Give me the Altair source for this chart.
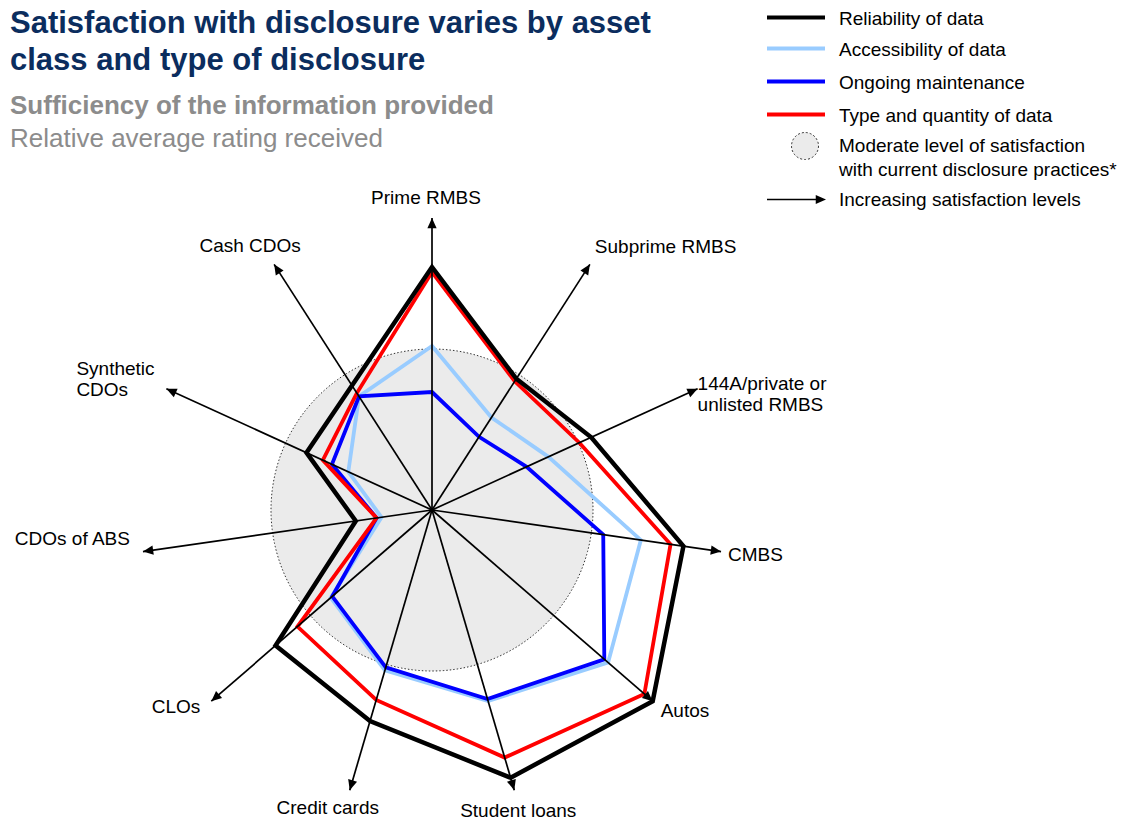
import altair as alt
import pandas as pd

# ---------------- data ----------------
categories = ["Prime RMBS", "Subprime RMBS", "144A/private or unlisted RMBS", "CMBS", "Autos",
              "Student loans", "Credit cards", "CLOs", "CDOs of ABS", "Synthetic CDOs", "Cash CDOs"]
axis_labels = ["Prime RMBS", "Subprime RMBS", "144A/private or\nunlisted RMBS", "CMBS", "Autos",
               "Student loans", "Credit cards", "CLOs", "CDOs of ABS", "Synthetic\nCDOs", "Cash CDOs"]

reliability = [2.43, 1.56, 1.75, 2.54, 2.92, 2.79, 2.20, 2.07, 0.77, 1.38, 1.48]
accessibility = [1.64, 1.10, 1.28, 2.11, 2.33, 1.99, 1.67, 1.34, 0.51, 0.92, 1.35]
maintenance = [1.18, 0.87, 1.04, 1.73, 2.28, 1.97, 1.64, 1.32, 0.56, 1.10, 1.35]
type_quantity = [2.38, 1.53, 1.62, 2.41, 2.81, 2.58, 1.98, 1.78, 0.56, 1.20, 1.39]

moderate_level = 1.61   # radius of the "moderate satisfaction" circle
axis_length = 2.92      # length of each "increasing satisfaction" arrow

series_names = ["Reliability of data", "Accessibility of data", "Ongoing maintenance", "Type and quantity of data"]
series_values = [reliability, accessibility, maintenance, type_quantity]
series_colors = ["#000000", "#99ccff", "#0000ff", "#ff0000"]

legend_extra = ["Moderate level of satisfaction", "with current disclosure practices*",
                "Increasing satisfaction levels"]
title_lines = ["Satisfaction with disclosure varies by asset", "class and type of disclosure"]
subtitle_bold = "Sufficiency of the information provided"
subtitle_regular = "Relative average rating received"

# ---------------- layout ----------------
W, H = 1132, 823
CX, CY = 432, 510
PX = 100.0
N = len(categories)
FONT = "Liberation Sans"

xs = alt.Scale(domain=[-CX / PX, (W - CX) / PX], nice=False, zero=False)
ys = alt.Scale(domain=[-(H - CY) / PX, CY / PX], nice=False, zero=False)


def X(f):
    return alt.X(f, type="quantitative", scale=xs, axis=None)


def Y(f):
    return alt.Y(f, type="quantitative", scale=ys, axis=None)


ANG = f"datum.k * 2 * PI / {N}"

rows = []
for name, vals in zip(series_names, series_values):
    for k, (cat, v) in enumerate(zip(categories, vals)):
        rows.append({"series": name, "category": cat, "k": k, "value": v})
radar = pd.DataFrame(rows)

# circle fill (area between lower and upper half)
circle_fill = alt.Chart(alt.sequence(0, 201, as_="i")).transform_calculate(
    t="datum.i * PI / 200",
    x=f"-{moderate_level} * cos(datum.t)",
    y=f"{moderate_level} * sin(datum.t)",
    y2=f"-{moderate_level} * sin(datum.t)",
).mark_area(color="#ebebeb", orient="vertical", opacity=1).encode(
    x=X("x"), y=Y("y"), y2="y2:Q"
)

circle_line = alt.Chart(alt.sequence(0, 361, as_="i")).transform_calculate(
    t="datum.i * PI / 180",
    x=f"{moderate_level} * sin(datum.t)",
    y=f"{moderate_level} * cos(datum.t)",
).mark_line(color="#333333", strokeWidth=1, strokeDash=[1.5, 2]).encode(
    x=X("x"), y=Y("y"), order="i:Q"
)


def series_layer(name, color, width):
    return alt.Chart(radar).transform_filter(alt.datum.series == name).transform_calculate(
        a=ANG,
        x="datum.value * sin(datum.a)",
        y="datum.value * cos(datum.a)",
    ).mark_line(interpolate="linear-closed", color=color, strokeWidth=width,
                strokeJoin="miter", strokeMiterLimit=10).encode(
        x=X("x"), y=Y("y"), order="k:Q"
    )


series_layers = [
    series_layer(series_names[1], series_colors[1], 3.8),
    series_layer(series_names[2], series_colors[2], 3.8),
    series_layer(series_names[3], series_colors[3], 3.8),
    series_layer(series_names[0], series_colors[0], 4.5),
]

axes_df = pd.DataFrame({"category": categories, "label": axis_labels, "k": list(range(N))})

label_layout = {  # pixel offset of label (first line) from the arrow tip, alignment
    "Prime RMBS": (-6, -20, "center"),
    "Subprime RMBS": (5, -17, "left"),
    "144A/private or unlisted RMBS": (0, -5, "left"),
    "CMBS": (7, 3, "left"),
    "Autos": (8, 10, "left"),
    "Student loans": (4, 21, "center"),
    "Credit cards": (-22, 18, "center"),
    "CLOs": (-11, 6, "right"),
    "CDOs of ABS": (-13, -13, "right"),
    "Synthetic CDOs": (-90, -20, "left"),
    "Cash CDOs": (-24, -18, "center"),
}
axes_df["dx"] = [label_layout[c][0] for c in categories]
axes_df["dy"] = [label_layout[c][1] for c in categories]
axes_df["align"] = [label_layout[c][2] for c in categories]

axes_base = alt.Chart(axes_df).transform_calculate(
    a=ANG,
    deg=f"datum.k * 360 / {N}",
    zero="0",
    tx=f"{axis_length} * sin(datum.a)",
    ty=f"{axis_length} * cos(datum.a)",
    lx=f"datum.tx + datum.dx / {PX}",
    ly=f"datum.ty - datum.dy / {PX}",
)

axis_rules = axes_base.mark_rule(color="black", strokeWidth=1.7).encode(
    x=X("zero"), y=Y("zero"), x2="tx:Q", y2="ty:Q"
)

ARROW = "M0,0L-0.45,1L0.45,1Z"
axis_heads = axes_base.mark_point(shape=ARROW, size=420, filled=True, color="black", opacity=1).encode(
    x=X("tx"), y=Y("ty"), angle=alt.Angle("deg:Q", scale=None)
)

label_layers = []
for al in ["left", "center", "right"]:
    label_layers.append(
        axes_base.transform_filter(alt.datum.align == al).mark_text(
            align=al, baseline="middle", font=FONT, fontSize=19, color="black",
            lineBreak="\n", lineHeight=21
        ).encode(x=X("lx"), y=Y("ly"), text="label:N")
    )

# ---------------- titles ----------------
def text_at(txt, x, y, size, color, weight="normal"):
    return alt.Chart(pd.DataFrame({"t": [txt]})).mark_text(
        align="left", baseline="alphabetic", font=FONT, fontSize=size, fontWeight=weight, color=color
    ).encode(x=alt.value(x), y=alt.value(y), text="t:N")


titles = [
    text_at(title_lines[0], 10, 33, 31, "#0b2d5e", "bold"),
    text_at(title_lines[1], 10, 70, 31, "#0b2d5e", "bold"),
    text_at(subtitle_bold, 10, 114, 26, "#8c8c8c", "bold"),
    text_at(subtitle_regular, 10, 147, 26, "#8c8c8c"),
]

# ---------------- legend ----------------
leg_df = pd.DataFrame({"item": series_names, "py": [17.5, 48.5, 81.5, 114.5]})
leg_color = alt.Color("item:N", scale=alt.Scale(domain=series_names, range=series_colors), legend=None)
leg_lines = alt.Chart(leg_df).mark_rule(strokeWidth=4).encode(
    x=alt.value(767), x2=alt.value(825), y=alt.Y("py:Q", scale=None), color=leg_color
)
leg_text_df = pd.DataFrame({
    "t": series_names + legend_extra,
    "py": [18.5, 50, 83, 115.5, 146, 170, 199.5],
})
leg_text = alt.Chart(leg_text_df).mark_text(
    align="left", baseline="middle", font=FONT, fontSize=19, color="black"
).encode(x=alt.value(839), y=alt.Y("py:Q", scale=None), text="t:N")

leg_circle = alt.Chart(pd.DataFrame({"t": ["moderate"]})).mark_point(
    shape="circle", size=27 * 27, filled=True, fill="#ebebeb", stroke="#333333",
    strokeDash=[2, 2], strokeWidth=1, opacity=1
).encode(x=alt.value(805), y=alt.value(146))

leg_arrow_rule = alt.Chart(pd.DataFrame({"t": ["arrow"]})).mark_rule(color="black", strokeWidth=1.7).encode(
    x=alt.value(767), x2=alt.value(818), y=alt.value(199.5)
)
leg_arrow_head = alt.Chart(pd.DataFrame({"t": ["arrow"]})).mark_point(
    shape=ARROW, size=420, filled=True, color="black", opacity=1, angle=90
).encode(x=alt.value(826), y=alt.value(199.5))

chart = alt.layer(
    circle_fill, circle_line, *series_layers, axis_rules, axis_heads, *label_layers,
    *titles, leg_lines, leg_text, leg_circle, leg_arrow_rule, leg_arrow_head
).properties(
    width=W, height=H, autosize="none", padding=0, background="white"
).configure_view(stroke=None)

chart.save("out.html", embed_options={"renderer": "svg", "actions": False})
